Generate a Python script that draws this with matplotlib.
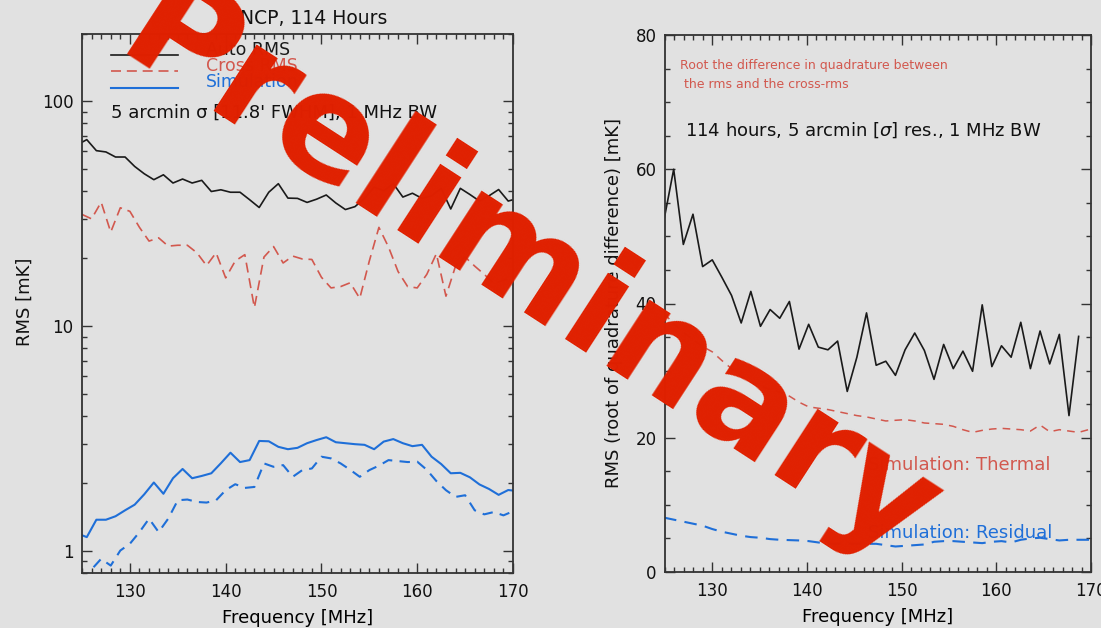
import numpy as np
import matplotlib
matplotlib.use("Agg")
import matplotlib.pyplot as plt
from matplotlib.ticker import FixedLocator, MultipleLocator, NullFormatter, FixedFormatter, LogLocator
from matplotlib.lines import Line2D

W, H = 1101, 628
BG = "#e1e1e1"
BLACK = "#1a1a1a"
RED = "#d2584e"
BLUE = "#1f6fd8"
WM = "#e02000"

# ---------------- data: left panel ----------------
freq_solid = np.arange(124.5, 171.0, 1.0)   # solid curves
freq_dash = np.arange(125.0, 171.0, 1.0)    # dashed curves
auto_rms = [64, 67.5, 60.3, 59.5, 56.5, 56.5, 51.3, 47.6, 44.8, 47.1,
            43.3, 45.1, 43.3, 44.5, 39.7, 40.4, 39.4, 39.4, 36.5, 33.7,
            39.4, 43.0, 37.1, 37.0, 35.5, 36.7, 38.3, 35.3, 33.0, 34.0,
            37.0, 41.5, 40.0, 43.0, 37.5, 39.0, 37.0, 38.0, 41.0, 33.2,
            41.0, 38.5, 36.0, 38.0, 40.5, 36.0, 37.0]
cross_rms = [31.4, 30.0, 35.6, 26.2, 33.6, 32.4, 27.5, 23.9, 24.7, 22.7,
             22.9, 22.9, 21.2, 18.6, 21.2, 16.4, 19.5, 20.8, 12.1, 20.3,
             22.6, 19.1, 20.5, 19.9, 19.8, 16.5, 14.8, 15.0, 15.6, 13.3,
             19.5, 27.5, 22.5, 17.5, 15.0, 14.8, 17.0, 21.0, 13.6, 18.5,
             20.3, 18.5, 17.0, 15.5, 16.0, 16.5]
sim_auto_rms = [1.20, 1.155, 1.38, 1.38, 1.43, 1.52, 1.61, 1.79, 2.02, 1.80,
                2.11, 2.32, 2.11, 2.16, 2.22, 2.46, 2.74, 2.49, 2.54, 3.09,
                3.08, 2.91, 2.84, 2.88, 3.02, 3.12, 3.21, 3.05, 3.02, 2.99,
                2.97, 2.84, 3.07, 3.15, 3.02, 2.93, 2.97, 2.63, 2.44, 2.22,
                2.23, 2.13, 1.98, 1.89, 1.78, 1.87, 1.85]
sim_cross_rms = [0.74, 0.83, 0.925, 0.863, 1.007, 1.079, 1.216, 1.395, 1.216, 1.395,
                 1.684, 1.697, 1.655, 1.645, 1.684, 1.867, 1.985, 1.911, 1.93, 2.456,
                 2.372, 2.413, 2.141, 2.293, 2.332, 2.63, 2.585, 2.456, 2.30, 2.141,
                 2.293, 2.40, 2.54, 2.515, 2.49, 2.50, 2.30, 2.05, 1.867, 1.743,
                 1.773, 1.52, 1.458, 1.493, 1.443, 1.504]

# ---------------- data: right panel ----------------
freq_right = np.linspace(124.9, 170.73, 46)
quad_diff = [52.5, 60.0, 48.8, 53.3, 45.5, 46.5, 43.9, 41.2, 37.1, 41.8,
             36.6, 39.1, 37.8, 40.3, 33.2, 36.9, 33.5, 33.1, 34.4, 26.9,
             32.0, 38.6, 30.8, 31.4, 29.3, 33.1, 35.6, 33.0, 28.7, 33.9,
             30.3, 32.9, 29.9, 39.8, 30.6, 33.7, 32.0, 37.2, 30.3, 35.9,
             31.0, 35.4, 23.3, 35.1]
sim_thermal = [38.5, 37.0, 35.7, 34.6, 33.6, 32.8, 31.5, 30.3, 29.2, 28.4,
               27.7, 27.2, 26.8, 26.2, 25.3, 24.6, 24.4, 24.2, 23.9, 23.6,
               23.3, 23.1, 22.8, 22.5, 22.6, 22.7, 22.5, 22.2, 22.1, 22.0,
               21.7, 21.2, 20.8, 21.1, 21.3, 21.4, 21.3, 21.2, 21.0, 21.9,
               20.9, 21.2, 21.0, 20.8, 21.2, 21.3]
sim_residual = [8.1, 7.8, 7.5, 7.2, 6.9, 6.4, 6.0, 5.7, 5.4, 5.2,
                5.1, 4.9, 4.8, 4.75, 4.7, 4.6, 4.4, 4.2, 4.2, 4.2,
                4.2, 4.2, 4.2, 4.0, 3.8, 3.9, 4.0, 4.1, 4.5, 4.6,
                4.6, 4.5, 4.4, 4.3, 4.5, 4.6, 4.4, 4.8, 5.0, 5.1,
                4.9, 4.7, 4.8, 4.8, 4.8, 4.8]

x_ticks = [130, 140, 150, 160, 170]
left_y_ticks = [1, 10, 100]
left_y_labels = ["1", "10", "100"]
right_y_ticks = [0, 20, 40, 60, 80]

# ---------------- figure ----------------
fig = plt.figure(figsize=(W / 100, H / 100), dpi=100, facecolor=BG)


def fx(px):
    return px / W


def fy(py):
    return 1 - py / H


axL = fig.add_axes([fx(82), fy(573), fx(513) - fx(82), fy(33.5) - fy(573)])
axR = fig.add_axes([fx(665), fy(572), fx(1091) - fx(665), fy(35) - fy(572)])

for ax in (axL, axR):
    ax.set_facecolor(BG)
    for s in ax.spines.values():
        s.set_linewidth(1.3)
        s.set_color("#333333")
    ax.tick_params(which="both", direction="in", top=True, right=True,
                   color="#333333", labelcolor="#111111", labelsize=12)
    ax.tick_params(which="major", length=7.5, width=1.0)
    ax.tick_params(which="minor", length=3.8, width=1.0)
    ax.tick_params(axis="x", which="major", pad=7)
    ax.set_xlim(125, 170)
    ax.xaxis.set_major_locator(FixedLocator(x_ticks))
    ax.xaxis.set_minor_locator(MultipleLocator(1))

# ---- left panel ----
axL.set_yscale("log")
axL.set_ylim(0.8, 200)
axL.plot(freq_solid, auto_rms, color=BLACK, lw=1.2)
axL.plot(freq_dash, cross_rms, color=RED, lw=1.2, ls=(0, (6, 3.5)))
axL.plot(freq_solid, sim_auto_rms, color=BLUE, lw=1.5)
axL.plot(freq_dash, sim_cross_rms, color=BLUE, lw=1.5, ls=(0, (5, 3.5)))
axL.yaxis.set_major_locator(FixedLocator(left_y_ticks))
axL.yaxis.set_major_formatter(FixedFormatter(left_y_labels))
axL.yaxis.set_minor_locator(LogLocator(base=10, subs=np.arange(2, 10)))
axL.yaxis.set_minor_formatter(NullFormatter())
axL.tick_params(axis="y", which="major", pad=6)
axL.set_xlabel("Frequency [MHz]", fontsize=13, labelpad=6)

# ---- right panel ----
axR.set_ylim(0, 80)
axR.plot(freq_right[:len(quad_diff)], quad_diff, color=BLACK, lw=1.2)
axR.plot(freq_right, sim_thermal, color=RED, lw=1.1, ls=(0, (5, 4)))
axR.plot(freq_right, sim_residual, color=BLUE, lw=1.5, ls=(0, (6, 4)))
axR.yaxis.set_major_locator(FixedLocator(right_y_ticks))
axR.yaxis.set_minor_locator(MultipleLocator(5))
axR.tick_params(axis="y", which="major", pad=6)
axR.set_xlabel("Frequency [MHz]", fontsize=13, labelpad=6)

# ---- texts: left ----
fig.text(fx(387.5), fy(19), "NCP, 114 Hours", ha="right", va="center",
         fontsize=13.5, color="#111111")
legend_items = [("Auto RMS", BLACK, "-", 1.2, 55, 50),
                ("Cross RMS", RED, (0, (6, 3.5)), 1.2, 71, 66),
                ("Simulation", BLUE, "-", 1.5, 88, 82)]
for label, col, ls, lw, ly, ty in legend_items:
    fig.add_artist(Line2D([fx(110.7), fx(177.5)], [fy(ly), fy(ly)],
                          transform=fig.transFigure, color=col, ls=ls, lw=lw))
    fig.text(fx(206), fy(ty), label, color=col, fontsize=12.5, va="center")
fig.text(fx(110.7), fy(113), "5 arcmin \u03c3 [11.8' FWHM], 1 MHz BW",
         fontsize=13, va="center", color="#111111")
fig.text(fx(25), fy(302), "RMS [mK]", rotation=90, ha="center", va="center",
         fontsize=13, color="#111111")

# ---- texts: right ----
fig.text(fx(680), fy(65), "Root the difference in quadrature between",
         color=RED, fontsize=9, va="center")
fig.text(fx(680), fy(85), " the rms and the cross-rms",
         color=RED, fontsize=9, va="center")
fig.text(fx(685), fy(130), "114 hours, 5 arcmin [$\\sigma$] res., 1 MHz BW",
         fontsize=13, va="center", color="#111111")
fig.text(fx(1050), fy(465), "Simulation: Thermal", color=RED, fontsize=13,
         ha="right", va="center")
fig.text(fx(1052), fy(533), "Simulation: Residual", color=BLUE, fontsize=13,
         ha="right", va="center")
fig.text(fx(614), fy(303), "RMS (root of quadrature difference) [mK]",
         rotation=90, ha="center", va="center", fontsize=13, color="#111111")

# ---- watermark ----
fig.text(fx(528), fy(277), "Preliminary", rotation=-33, rotation_mode="anchor",
         ha="center", va="center", fontsize=104, fontweight="bold",
         color=WM, zorder=100)

fig.savefig("out.png", dpi=100, facecolor=BG)
